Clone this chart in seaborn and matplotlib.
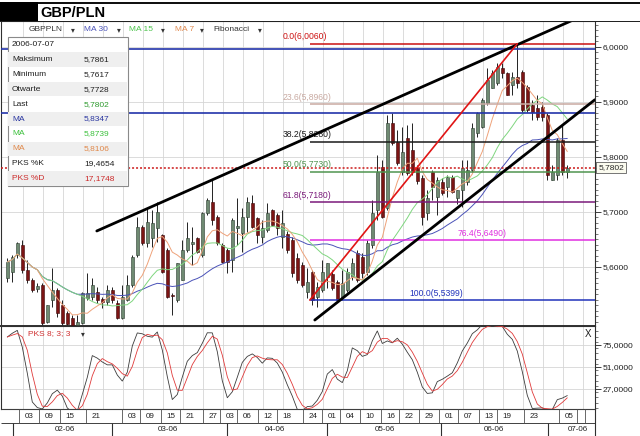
import numpy as np
import pandas as pd
import matplotlib
matplotlib.use("Agg")
import matplotlib.pyplot as plt
import matplotlib.transforms as mtrans
from matplotlib.patches import Rectangle
from matplotlib.ticker import MultipleLocator, FixedLocator, FuncFormatter
import seaborn as sns

sns.set_style("white")
plt.rcParams['font.family'] = ['Liberation Sans', 'DejaVu Sans']

# ---------------- data ----------------
opens = [5.580, 5.591, 5.622, 5.640, 5.595, 5.576, 5.560, 5.567, 5.500, 5.540,
         5.558, 5.531, 5.516, 5.507, 5.495, 5.498, 5.544, 5.545, 5.555, 5.542,
         5.536, 5.558, 5.535, 5.507, 5.540, 5.567, 5.622, 5.673, 5.644, 5.653,
         5.670, 5.658, 5.631, 5.549, 5.540, 5.576, 5.631, 5.642, 5.653, 5.622,
         5.698, 5.718, 5.691, 5.640, 5.631, 5.613, 5.670, 5.662, 5.691, 5.716,
         5.689, 5.655, 5.667, 5.703, 5.695, 5.655, 5.660, 5.649, 5.616, 5.604,
         5.555, 5.591, 5.545, 5.558, 5.582, 5.587, 5.573, 5.545, 5.558, 5.582,
         5.625, 5.618, 5.591, 5.640, 5.704, 5.782, 5.707, 5.862, 5.827, 5.773,
         5.835, 5.813, 5.780, 5.762, 5.698, 5.773, 5.727, 5.755, 5.745, 5.764,
         5.725, 5.740, 5.755, 5.776, 5.844, 5.855, 5.898, 5.925, 5.935, 5.962,
         5.953, 5.931, 5.945, 5.955, 5.927, 5.895, 5.889, 5.890, 5.876, 5.758,
         5.767, 5.831, 5.7728]
highs = [5.616, 5.622, 5.646, 5.649, 5.613, 5.580, 5.570, 5.571, 5.531, 5.598,
         5.562, 5.540, 5.520, 5.513, 5.513, 5.555, 5.589, 5.580, 5.564, 5.545,
         5.567, 5.564, 5.540, 5.567, 5.585, 5.622, 5.691, 5.676, 5.705, 5.703,
         5.718, 5.660, 5.635, 5.553, 5.607, 5.649, 5.682, 5.673, 5.655, 5.700,
         5.725, 5.758, 5.695, 5.644, 5.635, 5.689, 5.725, 5.707, 5.727, 5.731,
         5.691, 5.685, 5.716, 5.705, 5.698, 5.703, 5.665, 5.655, 5.625, 5.609,
         5.598, 5.595, 5.573, 5.613, 5.607, 5.595, 5.576, 5.595, 5.598, 5.616,
         5.631, 5.625, 5.649, 5.722, 5.804, 5.795, 5.876, 5.880, 5.849, 5.855,
         5.858, 5.862, 5.785, 5.767, 5.740, 5.776, 5.764, 5.762, 5.767, 5.767,
         5.740, 5.795, 5.795, 5.862, 5.882, 5.907, 5.962, 5.958, 5.971, 5.971,
         5.955, 5.955, 6.006, 5.958, 5.931, 5.904, 5.913, 5.900, 5.880, 5.785,
         5.835, 5.858, 5.7861]
lows = [5.573, 5.573, 5.616, 5.589, 5.571, 5.555, 5.555, 5.495, 5.498, 5.527,
        5.509, 5.494, 5.494, 5.494, 5.494, 5.497, 5.540, 5.540, 5.535, 5.526,
        5.531, 5.535, 5.505, 5.505, 5.538, 5.564, 5.618, 5.640, 5.636, 5.636,
        5.645, 5.589, 5.544, 5.513, 5.536, 5.576, 5.627, 5.604, 5.625, 5.618,
        5.695, 5.676, 5.640, 5.607, 5.589, 5.591, 5.640, 5.627, 5.664, 5.671,
        5.644, 5.644, 5.664, 5.675, 5.658, 5.635, 5.625, 5.582, 5.571, 5.564,
        5.544, 5.531, 5.527, 5.555, 5.562, 5.558, 5.536, 5.540, 5.555, 5.576,
        5.573, 5.580, 5.585, 5.634, 5.685, 5.689, 5.704, 5.822, 5.785, 5.767,
        5.767, 5.767, 5.750, 5.676, 5.685, 5.722, 5.695, 5.730, 5.727, 5.734,
        5.715, 5.709, 5.749, 5.773, 5.836, 5.853, 5.895, 5.925, 5.931, 5.944,
        5.913, 5.913, 5.925, 5.882, 5.882, 5.867, 5.867, 5.866, 5.758, 5.758,
        5.758, 5.767, 5.7617]
closes = [5.609, 5.618, 5.644, 5.595, 5.576, 5.558, 5.565, 5.498, 5.530, 5.558,
          5.516, 5.498, 5.496, 5.495, 5.500, 5.553, 5.553, 5.567, 5.540, 5.536,
          5.558, 5.540, 5.507, 5.545, 5.567, 5.618, 5.673, 5.644, 5.682, 5.680,
          5.700, 5.591, 5.545, 5.547, 5.607, 5.631, 5.653, 5.645, 5.627, 5.698,
          5.722, 5.685, 5.644, 5.609, 5.609, 5.685, 5.675, 5.691, 5.718, 5.673,
          5.658, 5.671, 5.698, 5.676, 5.671, 5.680, 5.631, 5.589, 5.576, 5.567,
          5.573, 5.540, 5.564, 5.591, 5.607, 5.562, 5.540, 5.571, 5.591, 5.607,
          5.576, 5.589, 5.644, 5.698, 5.773, 5.691, 5.862, 5.825, 5.789, 5.809,
          5.771, 5.773, 5.756, 5.691, 5.725, 5.745, 5.758, 5.735, 5.764, 5.736,
          5.740, 5.780, 5.776, 5.853, 5.880, 5.904, 5.940, 5.953, 5.964, 5.953,
          5.913, 5.945, 5.935, 5.886, 5.886, 5.882, 5.873, 5.872, 5.767, 5.773,
          5.831, 5.773, 5.7802]

fib_names = ["0.0", "23.6", "38.2", "50.0", "61.8", "76.4", "100.0"]
fib_values = [6.0060, 5.8960, 5.8280, 5.7730, 5.7180, 5.6490, 5.5399]
fib_colors = ["#cc1111", "#c9aaa2", "#1a1a1a", "#4f944f", "#7a1a7a", "#e030e0", "#2233bb"]
fib_label_x = [55.1, 55.1, 55.1, 55.1, 55.1, 90.0, 80.5]
fib_start = 60.5
swing_x = [60.5, 102.0]
swing_y = [5.5399, 6.0060]
upper_trend_x = [17.9, 118.0]
upper_trend_y = [5.6655, 6.0686]
lower_trend_x = [61.5, 117.5]
lower_trend_y = [5.5036, 5.9040]
blue_levels = [5.9964, 5.8806]
last_price = 5.7802

price_ticks = [5.6, 5.7, 5.8, 5.9, 6.0]
stoch_ticks = [27, 51, 75]

day_labels = ["03", "09", "15", "21", "03", "09", "15", "21", "27", "03", "06", "12", "18",
              "24", "01", "04", "10", "16", "22", "29", "01", "07", "13", "19", "23", "05"]
day_ticks = [2.3, 6.3, 10.5, 15.7, 22.9, 26.5, 30.7, 34.5, 39.1, 42.5, 45.9, 50.1, 53.9,
             59.1, 62.9, 66.5, 70.5, 74.7, 78.3, 82.3, 86.3, 90.1, 94.3, 97.9, 103.3, 110.3]
month_labels = ["02-06", "03-06", "04-06", "05-06", "06-06", "07-06"]
month_ticks = [1.2, 20.9, 43.9, 63.9, 86.7, 108.1]
month_centers = [11.5, 32.1, 53.5, 75.5, 97.3, 114.1]

info_rows = ["2006-07-07", "Maksimum", "Minimum", "Otwarte", "Last", "MA", "MA", "MA",
             "PKS %K", "PKS %D"]
info_vals = ["", "5,7861", "5,7617", "5,7728", "5,7802", "5,8347", "5,8739", "5,8106",
             "19,4654", "17,1748"]

# ---------------- derived indicators ----------------
df = pd.DataFrame({"o": opens, "h": highs, "l": lows, "c": closes})
df["idx"] = np.arange(len(df))
df["ma30"] = df["c"].rolling(30, min_periods=1).mean()
df["ma15"] = df["c"].rolling(15, min_periods=1).mean()
df["ma7"] = df["c"].rolling(7, min_periods=1).mean()
hh = df["h"].rolling(8, min_periods=1).max()
ll = df["l"].rolling(8, min_periods=1).min()
raw = 100 * (df["c"] - ll) / (hh - ll)
df["k"] = raw.rolling(3, min_periods=1).mean()
df["d"] = df["k"].rolling(3, min_periods=1).mean()

# ---------------- colours ----------------
C_MA30 = "#4a52b8"
C_MA15 = "#7fd67f"
C_MA7 = "#eea27a"
C_UP = "#6f8a72"
C_DN = "#7c1414"
GRID = "#d6d6d6"

# ---------------- layout ----------------
W, H = 640, 436
fig = plt.figure(figsize=(6.4, 4.36), dpi=100)
fig.patch.set_facecolor("white")


def fb(py):
    return 1 - py / H


X0, DX = 7.3, 5.0  # pixel position of first candle, candle spacing


def idx_of(px):
    return (px - X0) / DX


def price_of(py):
    return 6.0 - (py - 47) / 550.0


left = 1 / W
width = 594 / W
ax = fig.add_axes([left, fb(326), width, fb(21) - fb(326)])
ax2 = fig.add_axes([left, fb(409), width, fb(326) - fb(409)], sharex=ax)
ax3 = fig.add_axes([left, fb(436), width, fb(409) - fb(436)], sharex=ax)

ax.set_xlim(idx_of(1), idx_of(595))
ax.set_ylim(price_of(326), price_of(21))
ax2.set_ylim(5.2, 95.7)

grid_x = np.arange(3.1, 118, 4)
for a in (ax, ax2):
    a.set_facecolor("white")
    a.vlines(grid_x, 0, 1, transform=a.get_xaxis_transform(), color=GRID, lw=0.6, zorder=0)
    for s in a.spines.values():
        s.set_color("#303030")
        s.set_linewidth(0.8)
    a.tick_params(axis="x", which="both", length=0, labelbottom=False)
ax.spines["bottom"].set_linewidth(1.4)
ax.hlines(price_ticks, idx_of(1), idx_of(595), color=GRID, lw=0.6, zorder=0)
ax2.hlines(stoch_ticks, idx_of(1), idx_of(595), color=GRID, lw=0.6, zorder=0)

# candles
x = df["idx"].values
o = df["o"].values
c = df["c"].values
up = c >= o
ax.vlines(x, df["l"], df["h"], color="#222222", lw=0.7, zorder=3)
body_h = np.maximum(np.abs(c - o), 0.0012)
ax.bar(x[up], body_h[up], bottom=np.minimum(o, c)[up], width=0.62, color=C_UP,
       edgecolor="#2b3a2e", linewidth=0.4, zorder=4)
ax.bar(x[~up], body_h[~up], bottom=np.minimum(o, c)[~up], width=0.62, color=C_DN,
       edgecolor="#3a0606", linewidth=0.4, zorder=4)

# moving averages
sns.lineplot(data=df, x="idx", y="ma30", ax=ax, color=C_MA30, lw=0.7, zorder=5)
sns.lineplot(data=df, x="idx", y="ma15", ax=ax, color=C_MA15, lw=0.7, zorder=5)
sns.lineplot(data=df, x="idx", y="ma7", ax=ax, color=C_MA7, lw=0.7, zorder=5)

# horizontal levels
xr = idx_of(595)
ax.hlines(blue_levels, idx_of(1), xr, color="#2233aa", lw=1.2, zorder=6)
for name, val, col, lx in zip(fib_names, fib_values, fib_colors, fib_label_x):
    ax.hlines(val, fib_start, xr, color=col, lw=1.1, zorder=6)
    ax.annotate(f"{name}({val:.4f})".replace("(6.", "(6,").replace("(5.", "(5,"),
                (lx, val), xytext=(0, 1.8), textcoords="offset points",
                color=col, fontsize=6.2, va="bottom", ha="left", zorder=7)
ax.axhline(last_price, color="#cc1a1a", lw=1.1, ls=(0, (1.3, 1.3)), zorder=6)

# trend lines
sns.lineplot(x=upper_trend_x, y=upper_trend_y, ax=ax, color="black", lw=2.0, zorder=7)
sns.lineplot(x=lower_trend_x, y=lower_trend_y, ax=ax, color="black", lw=2.0, zorder=7)
sns.lineplot(x=swing_x, y=swing_y, ax=ax, color="#e01515", lw=1.2, zorder=7)

# right price axis
ax.yaxis.set_ticks_position("right")
ax.yaxis.set_major_locator(FixedLocator(price_ticks))
ax.yaxis.set_minor_locator(MultipleLocator(0.01))
fmt = FuncFormatter(lambda v, p: f"{v:.4f}".replace(".", ","))
ax.yaxis.set_major_formatter(fmt)
ax.tick_params(axis="y", which="major", length=4, width=0.6, labelsize=6, pad=1.5,
               colors="#202020")
ax.tick_params(axis="y", which="minor", length=2, width=0.5, colors="#404040")
ax.set_xlabel("")
ax.set_ylabel("")

trans = mtrans.blended_transform_factory(ax.transAxes, ax.transData)
ax.text(1.006, last_price, f"{last_price:.4f}".replace(".", ","), transform=trans,
        fontsize=6, va="center", ha="left", clip_on=False, zorder=20,
        bbox=dict(boxstyle="square,pad=0.25", fc="#fbfbef", ec="#606060", lw=0.6))

# stochastic
sns.lineplot(data=df, x="idx", y="k", ax=ax2, color="#3c3c3c", lw=0.6, zorder=4)
sns.lineplot(data=df, x="idx", y="d", ax=ax2, color="#e03a3a", lw=0.6, zorder=4)
ax2.yaxis.set_ticks_position("right")
ax2.yaxis.set_major_locator(FixedLocator(stoch_ticks))
ax2.yaxis.set_minor_locator(MultipleLocator(6))
ax2.yaxis.set_major_formatter(fmt)
ax2.tick_params(axis="y", which="major", length=4, width=0.6, labelsize=6, pad=1.5,
                colors="#202020")
ax2.tick_params(axis="y", which="minor", length=2, width=0.5, colors="#404040")
ax2.set_xlabel("")
ax2.set_ylabel("")

# date axis
ax3.set_ylim(27, 0)
ax3.axis("off")
ax3.hlines([0.3, 14], idx_of(1), xr, color="#404040", lw=0.7)
ax3.vlines(day_ticks, 0, 14, color="#505050", lw=0.6)
ax3.vlines([113.9, 115.5], 0, 14, color="#505050", lw=0.6)
for t, lab in zip(day_ticks, day_labels):
    ax3.text(t + 2.0, 7.3, lab, fontsize=5.8, ha="center", va="center", color="#202020")
ax3.vlines(month_ticks, 14, 27, color="#303030", lw=0.8)
for t, lab in zip(month_centers, month_labels):
    ax3.text(t, 20.8, lab, fontsize=5.8, ha="center", va="center", color="#202020")

# ---------------- overlay texts / boxes (pixel coordinates) ----------------
ov = fig.add_axes([0, 0, 1, 1], zorder=10)
ov.set_xlim(0, W)
ov.set_ylim(H, 0)
ov.axis("off")
ov.patch.set_alpha(0)

# title bar
ov.add_patch(Rectangle((0, 21), W, 1.2, fc="#222222", ec="none"))
ov.add_patch(Rectangle((0, 2.5), W, 1.8, fc="#111111", ec="none"))
ov.add_patch(Rectangle((0, 2.5), 38, 18.5, fc="black", ec="none"))
ov.add_patch(Rectangle((38, 4.3), W - 38, 16.7, fc="white", ec="none"))
ov.text(40.5, 12.6, "GBP/PLN", fontsize=10.5, fontweight="bold", va="center", ha="left",
        color="black")
ov.vlines(595, 409, 436, color="#303030", lw=0.8)

# header row
hdr = [("GBPPLN", 29, 71, "#333333"), ("MA 30", 84, 117, C_MA30),
       ("MA 15", 129, 161, "#4cc44c"), ("MA 7", 175, 200, "#e08a50"),
       ("Fibonacci", 213, 258, "#333333")]
for txt, x0, xa, col in hdr:
    ov.text(x0, 29.5, txt, fontsize=6, color=col, va="center", ha="left")
    ov.text(xa, 29.5, "\u25be", fontsize=5.5, color="#333333", va="center", ha="left",
            family=["DejaVu Sans"])

# info box
ov.add_patch(Rectangle((7.5, 37), 120.5, 149, fc="white", ec="#8a8a8a", lw=0.8))
row_cols = ["#202020", "#202020", "#202020", "#202020", "#202020", "#2a36a0", "#3cc03c",
            "#e0884a", "#202020", "#cc2a2a"]
val_cols = ["#202020", "#202020", "#202020", "#202020", "#2e9a2e", "#2a36a0", "#3cc03c",
            "#e0884a", "#202020", "#cc2a2a"]
for k, (lab, val) in enumerate(zip(info_rows, info_vals)):
    yc = 44.5 + 14.9 * k
    if k % 2 == 1:
        ov.add_patch(Rectangle((8.3, yc - 7.2), 119, 14.4, fc="#efefef", ec="none"))
    ov.text(12, yc, lab, fontsize=6, color=row_cols[k], va="center", ha="left")
    if val:
        ov.text(84, yc, val, fontsize=6, color=val_cols[k], va="center", ha="left")

# stochastic header
ov.text(28.5, 333.5, "PKS 8; 3; 3", fontsize=6, color="#d03030", va="center", ha="left")
ov.text(81, 333.5, "\u25be", fontsize=5.5, color="#333333", va="center", ha="left",
        family=["DejaVu Sans"])
ov.text(588, 334, "X", fontsize=7, color="#202020", va="center", ha="center")

fig.savefig("out.png", dpi=100, facecolor="white")
